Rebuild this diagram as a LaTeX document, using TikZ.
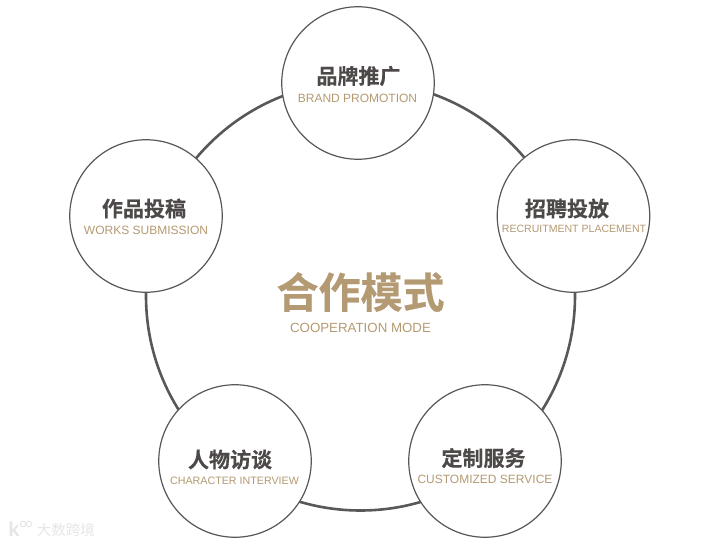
\documentclass[tikz,border=0pt]{standalone}
\usepackage{fontspec}
\setmainfont{Liberation Sans}
\newfontfamily\cjk{Noto Sans CJK SC}[BoldFont={Noto Sans CJK SC Bold},BoldFeatures={FakeBold=0.4}]
\newfontfamily\cjkplain{Noto Sans CJK SC}
\definecolor{ringgray}{HTML}{595757}
\definecolor{titlegray}{HTML}{4C4948}
\definecolor{tan}{HTML}{B49A72}
\definecolor{wm}{HTML}{E6E6E6}
\tikzset{
  x=1pt,y=-1pt,
  ring/.style={circle,draw=ringgray,line width=2.6pt,minimum size=429pt,inner sep=0pt},
  petal/.style={circle,draw=ringgray,line width=1.2pt,fill=white,minimum size=152.5pt,inner sep=0pt},
  cntitle/.style={font=\cjk\bfseries\fontsize{21}{21}\selectfont,text=titlegray,inner sep=0pt},
  entitle/.style={font=\fontsize{12}{12}\selectfont,text=tan,inner sep=0pt},
  bigtitle/.style={font=\cjk\bfseries\fontsize{42}{42}\selectfont,text=tan,inner sep=0pt},
  wmark/.style={font=\cjkplain\fontsize{14.5}{14.5}\selectfont,text=wm,inner sep=0pt},
  wmring/.style={circle,draw=wm,line width=1pt,minimum size=5.5pt,inner sep=0pt}
}
\begin{document}
\begin{tikzpicture}
\useasboundingbox (0,0) rectangle (716,544);
\node[ring] (main) at (360.5,296) {};
\node[petal] (p1) at (358,83) {};
\node[petal] (p2) at (573.5,216) {};
\node[petal] (p3) at (485,461) {};
\node[petal] (p4) at (235,461) {};
\node[petal] (p5) at (146,216) {};
\node[cntitle] (t1) at (358.5,76) {品牌推广};
\node[entitle] (e1) at (357.5,98.5) {BRAND PROMOTION};
\node[cntitle] (t2) at (567,208.5) {招聘投放};
\node[entitle,font=\fontsize{10.55}{11}\selectfont] (e2) at (574,229) {RECRUITMENT PLACEMENT};
\node[cntitle] (t3) at (483.5,458) {定制服务};
\node[entitle] (e3) at (485,479.5) {CUSTOMIZED SERVICE};
\node[cntitle] (t4) at (230,459.5) {人物访谈};
\node[entitle,font=\fontsize{10.7}{12}\selectfont] (e4) at (234.5,481) {CHARACTER INTERVIEW};
\node[cntitle] (t5) at (144,208.5) {作品投稿};
\node[entitle] (e5) at (146,230.5) {WORKS SUBMISSION};
\node[bigtitle] (big) at (360.5,292) {合作模式};
\node[entitle,font=\fontsize{13.3}{14}\selectfont] (bige) at (360.5,328) {COOPERATION MODE};
\node[wmark] (wm1) at (66,530) {大数跨境};
\node[wmark,font=\bfseries\fontsize{20}{20}\selectfont] (wm2) at (14,529) {k};
\node[wmring] (wm3) at (23,524) {};
\node[wmring] (wm4) at (29,524) {};
\end{tikzpicture}
\end{document}
